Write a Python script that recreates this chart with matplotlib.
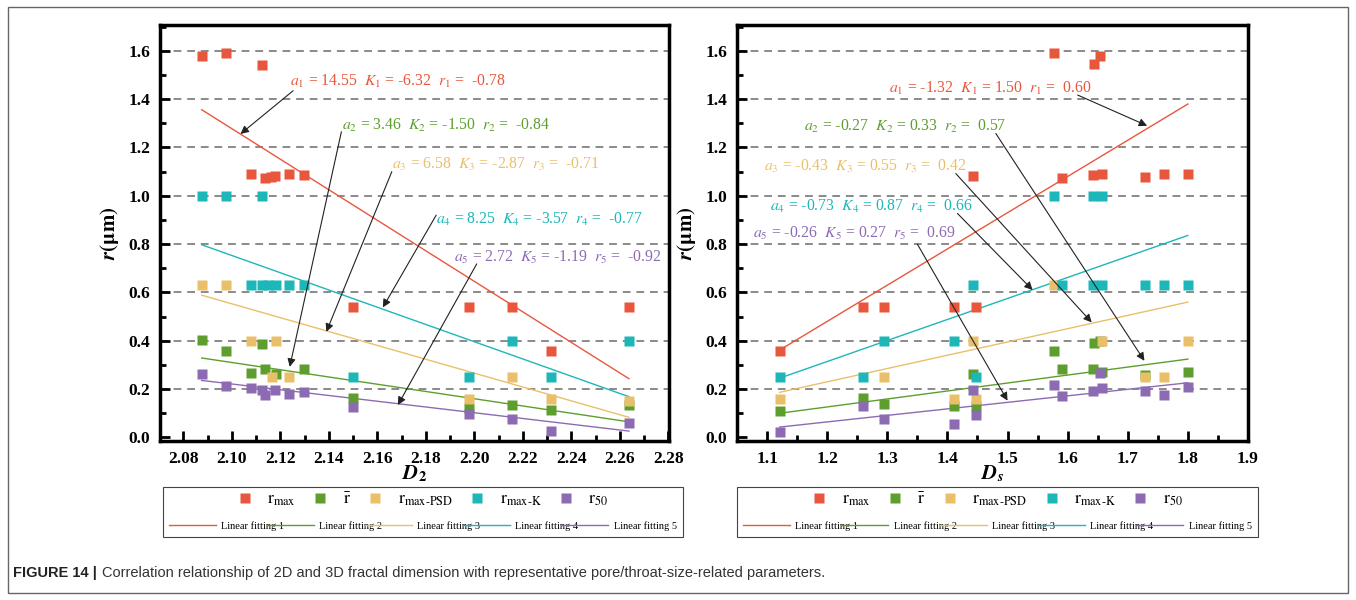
# Fractal dimension (D2, Ds) vs pore/throat-size parameters, with linear fits.
import matplotlib.pyplot as plt
import numpy as np
from matplotlib.lines import Line2D
from matplotlib.patches import Rectangle
from matplotlib.ticker import MultipleLocator

plt.rcParams['font.family'] = 'Liberation Serif'
plt.rcParams['mathtext.fontset'] = 'stix'

C_RED = '#E8573D'
C_GRN = '#5E9E2E'
C_YEL = '#E9C069'
C_TEA = '#1DB7B9'
C_PUR = '#8C6BB3'
colors = [C_RED, C_GRN, C_YEL, C_TEA, C_PUR]

# ---- 2D fractal dimension D2 ----
d2_rmax_x = [2.0876, 2.0977, 2.1124, 2.1081, 2.1136, 2.1160, 2.1177, 2.1236, 2.1298, 2.150, 2.198, 2.2154, 2.2316, 2.2638]
d2_rmax_y = [1.579, 1.593, 1.543, 1.090, 1.072, 1.078, 1.083, 1.090, 1.086, 0.540, 0.538, 0.540, 0.358, 0.540]
d2_rbar_x = [2.0876, 2.0977, 2.1081, 2.1125, 2.1136, 2.1181, 2.1298, 2.150, 2.198, 2.2154, 2.2316, 2.2638]
d2_rbar_y = [0.402, 0.356, 0.268, 0.388, 0.283, 0.262, 0.283, 0.161, 0.120, 0.135, 0.113, 0.135]
d2_psd_x = [2.0876, 2.0977, 2.1081, 2.1181, 2.1165, 2.1236, 2.198, 2.2154, 2.2316, 2.2638]
d2_psd_y = [0.629, 0.629, 0.400, 0.400, 0.251, 0.251, 0.160, 0.250, 0.160, 0.150]
d2_k_x = [2.0876, 2.0977, 2.1124, 2.1081, 2.1125, 2.1150, 2.1181, 2.1236, 2.1298, 2.150, 2.198, 2.2154, 2.2316, 2.2638]
d2_k_y = [1.0, 1.0, 1.0, 0.629, 0.629, 0.629, 0.629, 0.629, 0.629, 0.248, 0.250, 0.400, 0.250, 0.400]
d2_r50_x = [2.0876, 2.0977, 2.1081, 2.1124, 2.1136, 2.1177, 2.1236, 2.1298, 2.150, 2.198, 2.2154, 2.2316, 2.2638]
d2_r50_y = [0.263, 0.214, 0.203, 0.196, 0.175, 0.196, 0.179, 0.186, 0.127, 0.095, 0.075, 0.025, 0.060]

# fit coefficients r = a + K*D
d2_a = [14.55, 3.46, 6.58, 8.25, 2.72]
d2_K = [-6.32, -1.50, -2.87, -3.57, -1.19]
d2_r = [-0.78, -0.84, -0.71, -0.77, -0.92]

# ---- 3D fractal dimension Ds ----
ds_rmax_x = [1.121, 1.260, 1.294, 1.411, 1.448, 1.443, 1.578, 1.5905, 1.642, 1.644, 1.653, 1.657, 1.728, 1.761, 1.800]
ds_rmax_y = [0.359, 0.541, 0.541, 0.541, 0.541, 1.080, 1.590, 1.072, 1.087, 1.545, 1.579, 1.090, 1.076, 1.092, 1.090]
ds_rbar_x = [1.121, 1.260, 1.294, 1.411, 1.443, 1.448, 1.578, 1.5905, 1.642, 1.644, 1.653, 1.657, 1.728, 1.800]
ds_rbar_y = [0.110, 0.164, 0.138, 0.131, 0.262, 0.131, 0.359, 0.283, 0.283, 0.389, 0.400, 0.269, 0.258, 0.269]
ds_psd_x = [1.121, 1.294, 1.411, 1.443, 1.448, 1.578, 1.657, 1.728, 1.761, 1.800]
ds_psd_y = [0.159, 0.248, 0.159, 0.400, 0.159, 0.630, 0.400, 0.248, 0.248, 0.400]
ds_k_x = [1.121, 1.260, 1.294, 1.411, 1.443, 1.448, 1.578, 1.642, 1.657, 1.5905, 1.642, 1.657, 1.728, 1.761, 1.800]
ds_k_y = [0.248, 0.248, 0.400, 0.400, 0.632, 0.248, 1.0, 1.0, 1.0, 0.630, 0.630, 0.630, 0.630, 0.630, 0.630]
ds_r50_x = [1.121, 1.260, 1.294, 1.411, 1.443, 1.448, 1.578, 1.5905, 1.642, 1.653, 1.657, 1.728, 1.761, 1.800]
ds_r50_y = [0.021, 0.128, 0.076, 0.055, 0.197, 0.094, 0.217, 0.170, 0.190, 0.265, 0.203, 0.190, 0.177, 0.207]

ds_a = [-1.32, -0.27, -0.43, -0.73, -0.26]
ds_K = [1.50, 0.33, 0.55, 0.87, 0.27]
ds_r = [0.60, 0.57, 0.42, 0.66, 0.69]

marker_labels = [r'$\mathrm{r}_{\mathrm{max}}$', r'$\bar{\mathrm{r}}$', r'$\mathrm{r}_{\mathrm{max\text{-}PSD}}$',
                 r'$\mathrm{r}_{\mathrm{max\text{-}K}}$', r'$\mathrm{r}_{50}$']
fit_labels = ['Linear fitting %d' % i for i in range(1, 6)]

# annotation text anchors and arrow (start, end) in data units
d2_txt = [(2.1239, 1.472), (2.1454, 1.293), (2.1662, 1.128), (2.1843, 0.904), (2.1915, 0.744)]
d2_arr = [((2.1253, 1.435), (2.1036, 1.256)), ((2.1452, 1.265), (2.1239, 0.292)),
          ((2.1660, 1.100), (2.1390, 0.437)), ((2.1843, 0.920), (2.1623, 0.538)),
          ((2.2010, 0.718), (2.1685, 0.134))]
ds_txt = [(1.3027, 1.446), (1.162, 1.287), (1.0955, 1.120), (1.1055, 0.956), (1.076, 0.846)]
ds_arr = [((1.6167, 1.417), (1.7322, 1.290)), ((1.4805, 1.258), (1.7277, 0.317)),
          ((1.4140, 1.092), (1.6400, 0.476)), ((1.4167, 0.927), (1.5417, 0.610)),
          ((1.3500, 0.800), (1.5000, 0.152))]

W, H = 1356, 600
fig = plt.figure(figsize=(W / 100, H / 100), dpi=100)


def px(x0, y0, x1, y1):
    return [x0 / W, 1 - y1 / H, (x1 - x0) / W, (y1 - y0) / H]


def panel(ax, series, a, K, r, txt, arr, xlim, xmaj, xmin, xlab, box):
    for (xs, ys), c in zip(series, colors):
        ax.plot(xs, ys, 's', color=c, ms=7.5, mec='none', zorder=3)
    for i, ((xs, ys), c) in enumerate(zip(series, colors)):
        xx = np.array([min(xs), max(xs)])
        ax.plot(xx, a[i] + K[i] * xx, '-', color=c, lw=1.0, zorder=2)
    for i, c in enumerate(colors):
        n = i + 1
        s = (r'$a_{%d}$ = %.2f  $K_{%d}$ = %.2f  $r_{%d}$ =  %.2f'
             % (n, a[i], n, K[i], n, r[i]))
        ax.text(txt[i][0], txt[i][1], s, color=c, fontsize=11.3, ha='left', va='center', zorder=5)
        ax.annotate('', xy=arr[i][1], xytext=arr[i][0],
                    arrowprops=dict(arrowstyle='-|>', color='#222222', lw=0.8,
                                    mutation_scale=12, shrinkA=0, shrinkB=0), zorder=4)

    ax.set_xlim(*xlim)
    ax.set_ylim(-0.015, 1.707)
    ax.xaxis.set_major_locator(MultipleLocator(xmaj))
    ax.xaxis.set_minor_locator(MultipleLocator(xmin))
    ax.yaxis.set_major_locator(MultipleLocator(0.2))
    ax.yaxis.set_minor_locator(MultipleLocator(0.1))
    ax.tick_params(which='both', direction='in', top=False, right=False, width=2)
    ax.tick_params(which='major', length=7, pad=7, labelsize=12.5)
    ax.tick_params(which='minor', length=4)
    for sp in ax.spines.values():
        sp.set_linewidth(2.5)
    for yv in np.arange(0.2, 1.61, 0.2):
        ax.axhline(yv, color='#8a8a8a', lw=1.4, ls=(0, (4, 3)), zorder=1)
    ax.set_ylabel(r'$\boldsymbol{r}$' + r'$\mathbf{(\mu m)}$', fontsize=15, labelpad=5)
    ax.set_xlabel(xlab, fontsize=15, labelpad=-2)

    # legend block below the axes
    x0, y0, x1, y1 = box
    fig.patches.append(Rectangle((x0 / W, 1 - y1 / H), (x1 - x0) / W, (y1 - y0) / H,
                                 transform=fig.transFigure, fill=False,
                                 edgecolor='#444444', lw=0.8))
    mh = [Line2D([], [], marker='s', ls='none', color=c, ms=7, mec='none') for c in colors]
    fig.legend(mh, marker_labels, loc='center', ncol=5, frameon=False,
               bbox_to_anchor=((x0 + x1) / 2 / W, 1 - (y0 + 13) / H),
               fontsize=12.5, handlelength=0.8, handletextpad=0.9, columnspacing=1.0, borderpad=0)
    lh = [Line2D([], [], ls='-', color=c, lw=1.0) for c in colors]
    fig.legend(lh, fit_labels, loc='center', ncol=5, frameon=False, mode='expand',
               bbox_to_anchor=(x0 / W, 1 - (y0 + 39) / H, (x1 - x0) / W, 0),
               fontsize=7.5, handlelength=4.5, handletextpad=0.5, columnspacing=0.6, borderpad=0.1)


ax1 = fig.add_axes(px(160, 25, 669, 441))
ax2 = fig.add_axes(px(737, 25, 1248, 441))

d2_series = [(d2_rmax_x, d2_rmax_y), (d2_rbar_x, d2_rbar_y), (d2_psd_x, d2_psd_y),
             (d2_k_x, d2_k_y), (d2_r50_x, d2_r50_y)]
ds_series = [(ds_rmax_x, ds_rmax_y), (ds_rbar_x, ds_rbar_y), (ds_psd_x, ds_psd_y),
             (ds_k_x, ds_k_y), (ds_r50_x, ds_r50_y)]

panel(ax1, d2_series, d2_a, d2_K, d2_r, d2_txt, d2_arr, (2.0704, 2.2803), 0.02, 0.01,
      r'$\boldsymbol{D}_{\mathbf{2}}$', (163, 487, 683, 537))
panel(ax2, ds_series, ds_a, ds_K, ds_r, ds_txt, ds_arr, (1.05, 1.9), 0.1, 0.05,
      r'$\boldsymbol{D}_{\boldsymbol{s}}$', (737, 487, 1258, 537))
ax1.xaxis.set_major_formatter(plt.FormatStrFormatter('%.2f'))
ax2.xaxis.set_major_formatter(plt.FormatStrFormatter('%.1f'))
ax1.yaxis.set_major_formatter(plt.FormatStrFormatter('%.1f'))
ax2.yaxis.set_major_formatter(plt.FormatStrFormatter('%.1f'))
for ax in (ax1, ax2):
    for lab in ax.get_xticklabels() + ax.get_yticklabels():
        lab.set_fontweight('bold')

# outer frame and caption
fig.patches.append(Rectangle((8 / W, 1 - 593 / H), 1340 / W, 586 / H, transform=fig.transFigure,
                             fill=False, edgecolor='#666666', lw=1.0))
cap_y = 1 - 573 / H
t_bold = fig.text(13 / W, cap_y, 'FIGURE 14 |', fontsize=10.5, fontweight='bold',
                  family='Liberation Sans', va='center', color='#222222')
fig.canvas.draw()
bb = t_bold.get_window_extent(fig.canvas.get_renderer())
fig.text((bb.x1 + 5) / W, cap_y,
         'Correlation relationship of 2D and 3D fractal dimension with representative '
         'pore/throat-size-related parameters.',
         fontsize=10.5, family='Liberation Sans', va='center', color='#333333')

fig.savefig('out.png', dpi=100)
